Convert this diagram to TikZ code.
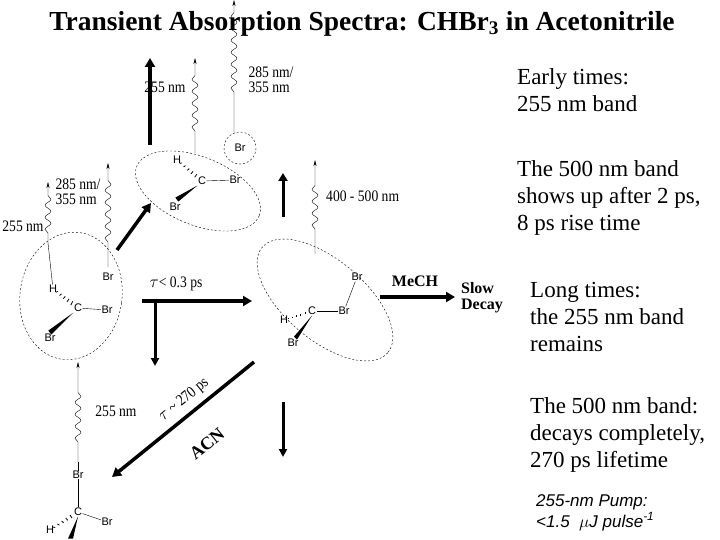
\documentclass[tikz,border=0pt]{standalone}
\usepackage{fontspec}
\setmainfont{Liberation Serif}
\newfontfamily\atomfont{Liberation Sans}
\newfontfamily\narrowfont[FakeStretch=0.85]{Liberation Serif}
\usetikzlibrary{decorations.pathmorphing,arrows.meta,calc}
\begin{document}
\begin{tikzpicture}[
  x=1pt, y=-1pt,
  atom/.style={font=\atomfont\fontsize{11}{11}\selectfont, inner sep=0.5pt},
  lbl/.style={font=\narrowfont\fontsize{16}{15}\selectfont, align=left, inner sep=1pt},
  note/.style={font=\fontsize{23}{27}\selectfont, align=left, anchor=north west, inner sep=0pt},
  cage/.style={draw, densely dashed, dash pattern=on 2pt off 2pt},
  bigarrow/.style={line width=3.5pt, -{Triangle[length=9pt,width=10pt]}},
  probe/.style={decorate, decoration={snake, amplitude=3pt, segment length=12pt, pre length=10pt, post length=12pt}, -{Stealth[length=6pt,width=3pt]}},
  hash/.style={line width=0.8pt},
  wedge/.style={fill=black}
]
\useasboundingbox (0,0) rectangle (720,540);

% Titel
\node[font=\bfseries\fontsize{27.5}{29}\selectfont] (title) at (362,24)
  {Transient Absorption Spectra: CHBr\textsubscript{3} in Acetonitrile};

% ====================== Molekuel 1 (links) ======================
\draw[cage, rotate around={-8:(71,296)}] (71,296) ellipse [x radius=51, y radius=64];
\node[atom] (hA) at (53,289) {H};
\node[atom] (cA) at (78,308) {C};
\node[atom] (brA1) at (107,310) {Br};
\node[atom] (brA2) at (50,338) {Br};
\node[atom] (brA3) at (108,277) {Br};
\draw (cA) -- (brA1);
\fill[wedge] (cA.south west) -- ++(-22,22) -- ++(-3,-4) -- cycle;
\foreach \t in {0.15,0.3,...,0.9} \draw[hash] ($(hA)!\t!(cA)$) ++(-1,2.5*\t) -- ++(2,-5*\t);
\coordinate (pA1) at (48,243);
\coordinate (pA2) at (48,182);
\draw (hA) -- (pA1);
\draw[probe] (pA1) -- (pA2);
\node[lbl] (lA1) at (23,226) {255 nm};
\coordinate (pA3) at (108,267);
\coordinate (pA4) at (108,163);
\draw[probe, decoration={pre length=25pt}] (pA3) -- (pA4);
\node[lbl] (lA2) at (78,192) {285 nm/\\355 nm};

% Pfeil zu Molekuel 2
\draw[bigarrow] (117,250) -- (151,203);

% ====================== Molekuel 2 (oben) ======================
\draw[cage, rotate around={-22:(198,191)}] (198,191) ellipse [x radius=66, y radius=34];
\node[atom] (hB) at (177,160) {H};
\node[atom] (cB) at (202,181) {C};
\node[atom] (brB1) at (235,180) {Br};
\node[atom] (brB2) at (175,207) {Br};
\draw (cB) -- (brB1);
\fill[wedge] (cB.south west) -- ++(-19,16) -- ++(-3,-4) -- cycle;
\foreach \t in {0.15,0.3,...,0.9} \draw[hash] ($(hB)!\t!(cB)$) ++(-1,2*\t) -- ++(2,-4*\t);
\draw[cage] (240,148) circle [radius=16];
\node[atom] (brB3) at (240,148) {Br};
\draw[line width=4pt, -{Triangle[length=9pt,width=10pt]}] (150,145) -- (150,58);
\node[lbl] (lB1) at (165,87) {255 nm};
\coordinate (pB1) at (195,153);
\coordinate (pB2) at (195,58);
\draw[probe, decoration={pre length=22pt}] (pB1) -- (pB2);
\coordinate (pB3) at (234,132);
\coordinate (pB4) at (234,0);
\draw[probe, decoration={pre length=40pt}] (pB3) -- (pB4);
\node[lbl] (lB2) at (271,80) {285 nm/\\355 nm};

\draw[line width=3pt, -{Triangle[length=8pt,width=9pt]}] (283,217) -- (283,173);

% ====================== Molekuel 3 (Mitte) ======================
\draw[cage, rotate around={-40:(325,300)}] (325,300) ellipse [x radius=82, y radius=40];
\node[atom] (hC) at (284,320) {H};
\node[atom] (cC) at (312,311) {C};
\node[atom] (brC1) at (344,311) {Br};
\node[atom] (brC2) at (293,343) {Br};
\node[atom] (brC3) at (357,277) {Br};
\draw (cC) -- (brC1);
\draw (brC1) -- (brC3);
\fill[wedge] (cC.south) -- ++(-15,24) -- ++(-3,-3) -- cycle;
\foreach \t in {0.15,0.3,...,0.9} \draw[hash] ($(hC)!\t!(cC)$) ++(0,-1.5*\t) -- ++(0,3*\t);
\coordinate (pC1) at (315,254);
\coordinate (pC2) at (315,160);
\draw[probe, decoration={pre length=25pt, post length=25pt}] (pC1) -- (pC2);
\node[lbl, anchor=west] (lC1) at (325,196) {400 - 500 nm};

% Zerfallswege
\coordinate (tauA) at (142,301);
\coordinate (tauB) at (252,301);
\draw[bigarrow] (tauA) -- (tauB);
\node[lbl] (lTau) at (176,284) {$\tau$< 0.3 ps};
\draw[line width=3pt, -{Triangle[length=8pt,width=8pt]}] (155,301) -- (155,366);
\draw[bigarrow] (380,297) -- (455,297);
\node[lbl, font=\bfseries\fontsize{16}{16}\selectfont] (lMe) at (415,281) {MeCH};
\node[lbl, font=\bfseries\fontsize{16}{16}\selectfont] (slow) at (482,298) {Slow\\Decay};
\draw[line width=3pt, -{Triangle[length=8pt,width=8pt]}] (283,402) -- (283,457);
\draw[bigarrow] (254,362) -- (112,477);
\node[lbl, rotate=39] (lAcn1) at (184,400) {$\tau$ \textasciitilde\ 270 ps};
\node[lbl, rotate=39, font=\bfseries\fontsize{18}{18}\selectfont] (lAcn2) at (207,444) {ACN};

% ====================== Molekuel 4 (unten) ======================
\node[atom] (brD1) at (78,475) {Br};
\node[atom] (cD) at (78,512) {C};
\node[atom] (brD2) at (107,522) {Br};
\node[atom] (hD) at (50,530) {H};
\draw (cD) -- (brD1);
\draw (cD) -- (brD2);
\fill[wedge] (cD.south) -- ++(-5,22) -- ++(-5,0) -- cycle;
\foreach \t in {0.15,0.3,...,0.9} \draw[hash] ($(hD)!\t!(cD)$) ++(-1,-2*\t) -- ++(2,4*\t);
\coordinate (pD1) at (78,462);
\coordinate (pD2) at (78,362);
\draw (brD1) -- (pD1);
\draw[probe, decoration={pre length=20pt, post length=28pt}] (pD1) -- (pD2);
\node[lbl] (lD1) at (116,411) {255 nm};

% Text rechts
\node[note] (n1) at (517,68) {Early times:\\255 nm band};
\node[note] (n2) at (517,160) {The 500 nm band\\shows up after 2 ps,\\8 ps rise time};
\node[note] (n3) at (530,282) {Long times:\\the 255 nm band\\remains};
\node[note] (n4) at (530,397) {The 500 nm band:\\decays completely,\\270 ps lifetime};
\node[note, font=\atomfont\itshape\fontsize{17}{21}\selectfont] (n5) at (536,494)
  {255-nm Pump:\\ <1.5 \ $\mu$J pulse\textsuperscript{-1}};
\end{tikzpicture}
\end{document}
